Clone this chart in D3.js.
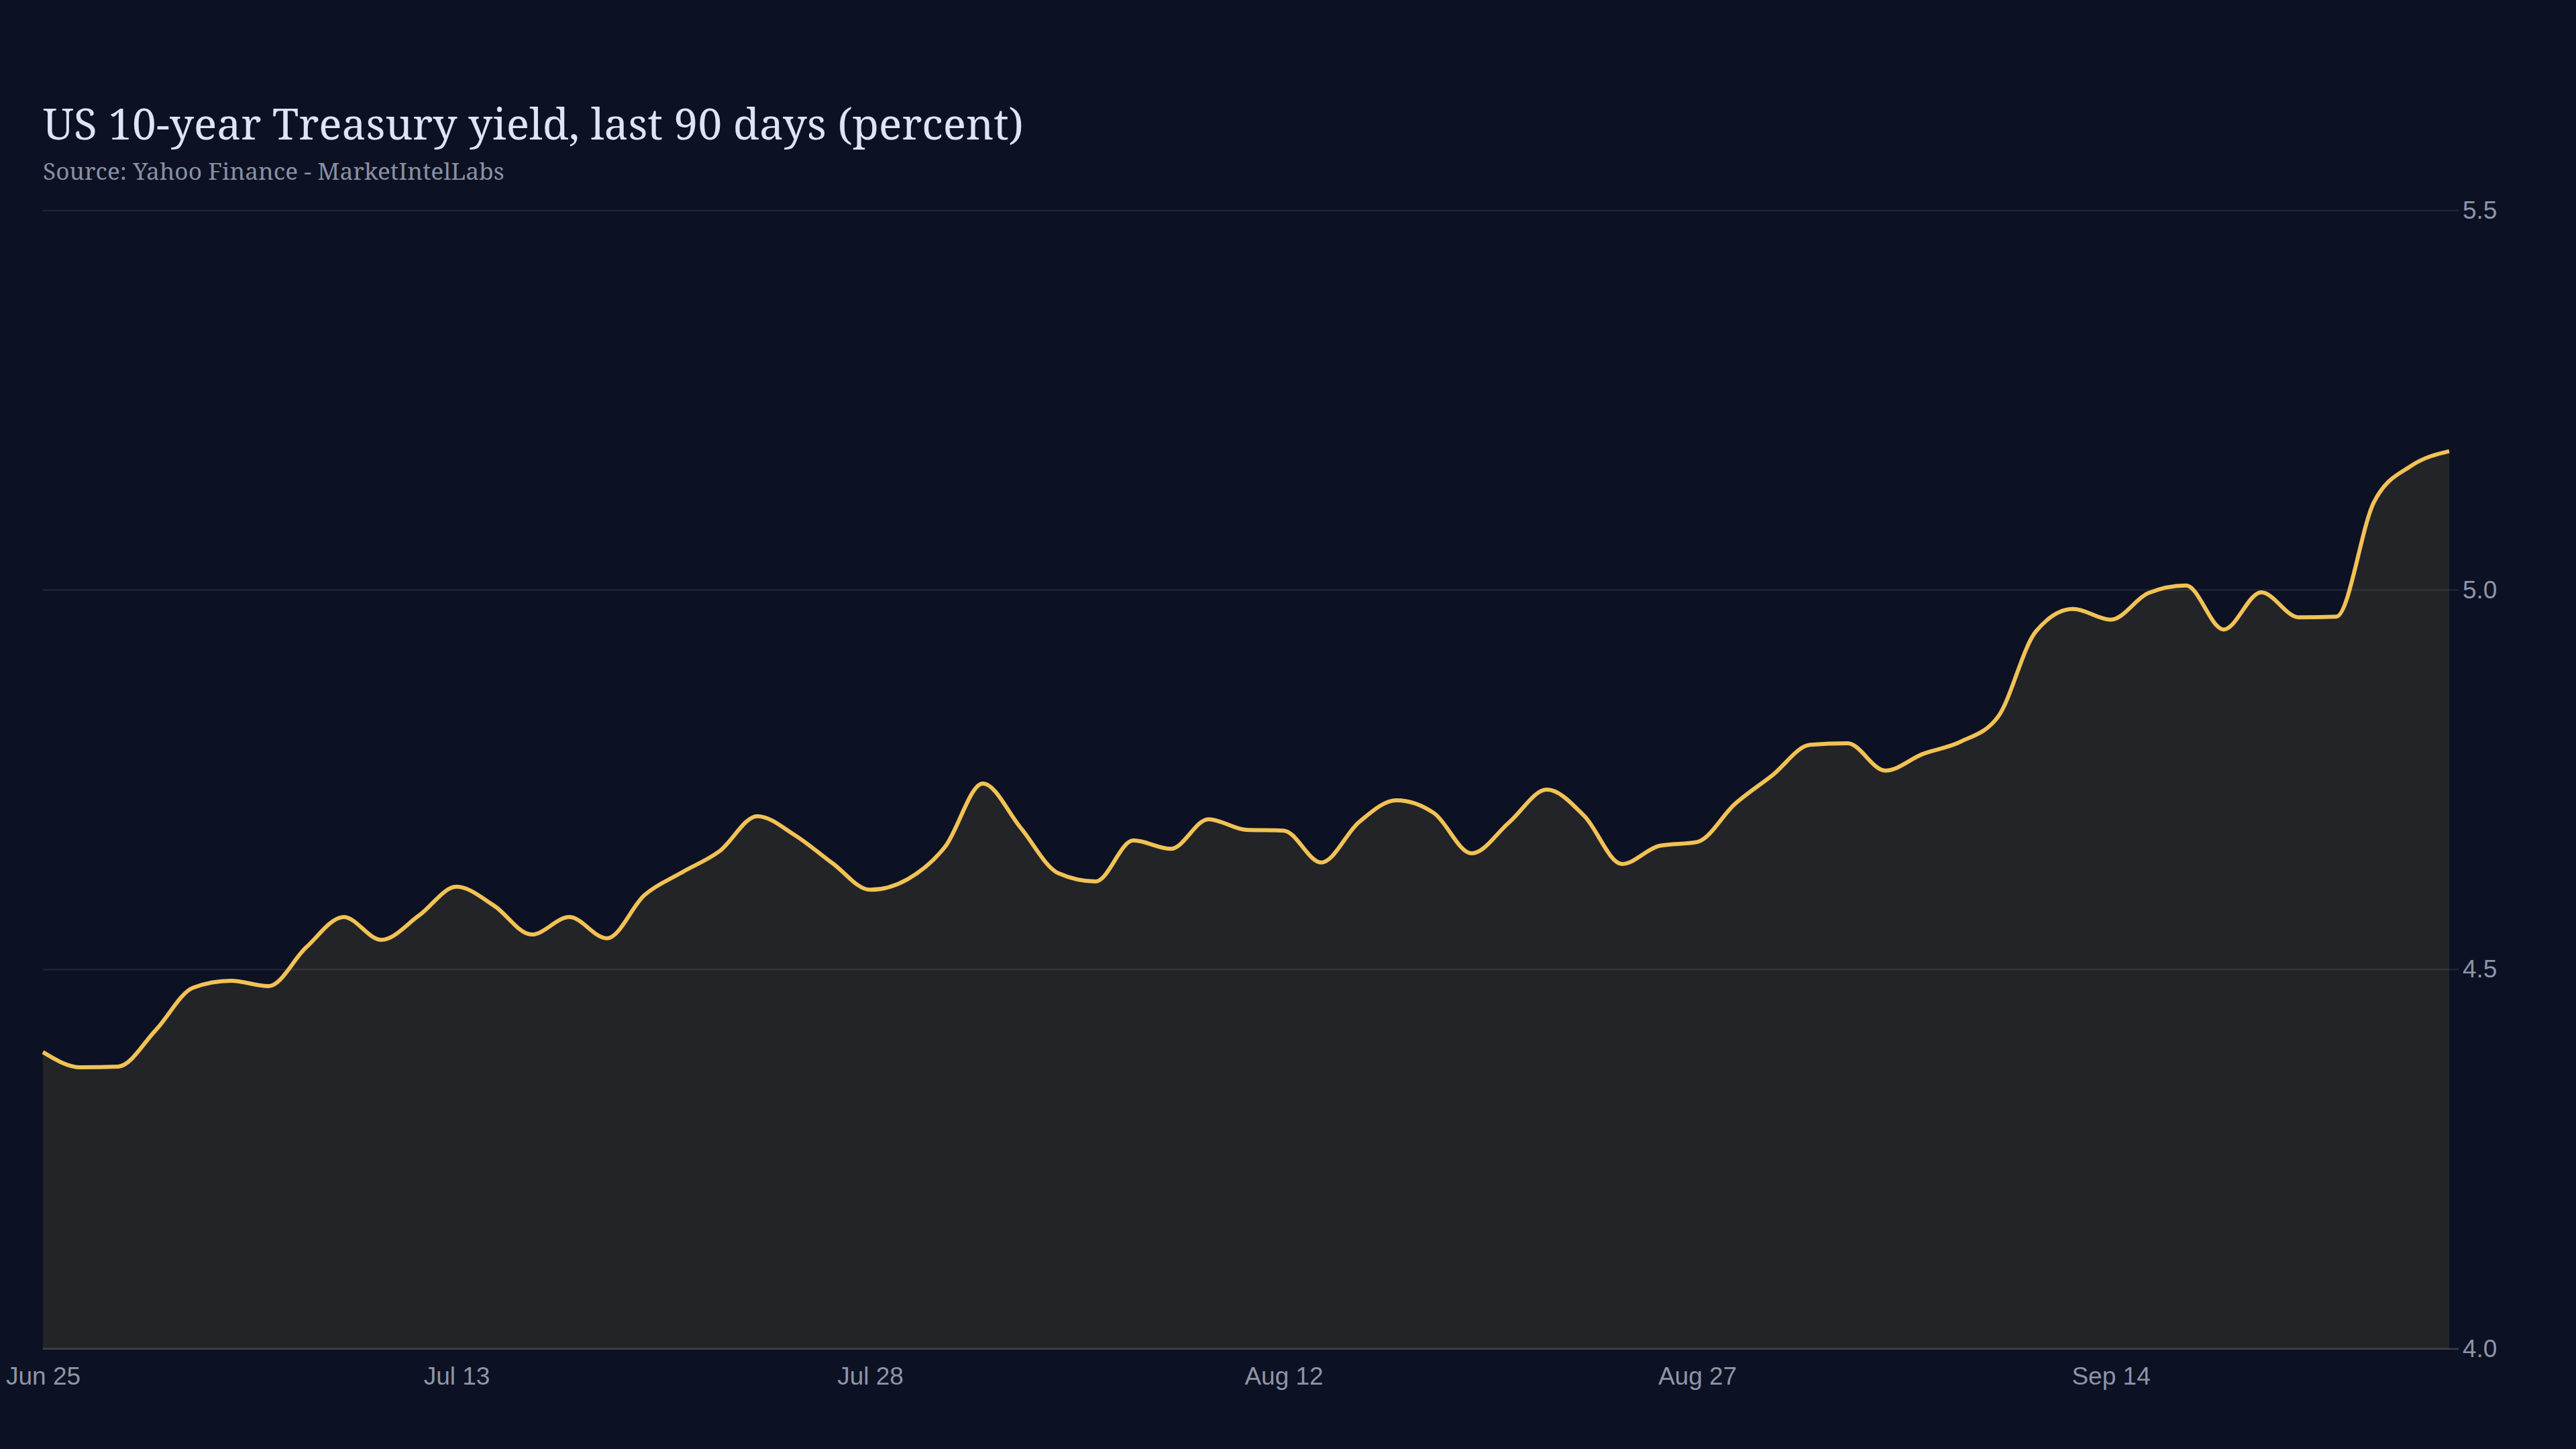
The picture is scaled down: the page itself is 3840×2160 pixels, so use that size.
<!DOCTYPE html>
<html>
<head>
<meta charset="utf-8">
<script src="https://cdn.jsdelivr.net/npm/d3@7"></script>
<style>
  html, body { margin: 0; padding: 0; background: #0c1223; }
  svg { display: block; }
</style>
</head>
<body>
<svg id="chart" width="3840" height="2160"></svg>
<script>
// 10y yield, one value per trading day (65 points)
const yields = [
  4.391, 4.371, 4.372, 4.420, 4.476, 4.485, 4.478, 4.529, 4.569, 4.539, 4.571,
  4.609, 4.584, 4.546, 4.569, 4.541, 4.598, 4.628, 4.656, 4.702, 4.677, 4.640,
  4.605, 4.619, 4.662, 4.745, 4.687, 4.627, 4.616, 4.670, 4.659, 4.698, 4.684,
  4.683, 4.641, 4.694, 4.723, 4.706, 4.653, 4.694, 4.737, 4.702, 4.639, 4.663,
  4.668, 4.718, 4.756, 4.796, 4.798, 4.762, 4.784, 4.800, 4.833, 4.945, 4.975,
  4.961, 4.996, 5.006, 4.948, 4.997, 4.964, 4.965, 5.116, 5.164, 5.183
];
const tickIdx = [0, 11, 22, 33, 44, 55];
const tickLabels = ['Jun 25', 'Jul 13', 'Jul 28', 'Aug 12', 'Aug 27', 'Sep 14'];
const yTicks = [4.0, 4.5, 5.0, 5.5];

const svg = d3.select('#chart');
const plotLeft = 64, plotRight = 3651, plotTop = 314, plotBottom = 2010.7;
const gridRight = 3665;
const lineColor = '#f2c255';

const x = d3.scaleLinear().domain([0, yields.length - 1]).range([plotLeft, plotRight]);
const y = d3.scaleLinear().domain([4, 5.5]).range([plotBottom, plotTop]);

svg.append('rect').attr('width', 3840).attr('height', 2160).attr('fill', '#0c1223');

// title
svg.append('text')
  .attr('x', 64).attr('y', 208)
  .attr('fill', '#dde4f5')
  .style('font-family', '"Noto Serif", "DejaVu Serif", serif')
  .style('font-size', '64px')
  .text('US 10-year Treasury yield, last 90 days (percent)');

svg.append('text')
  .attr('x', 64).attr('y', 268)
  .attr('fill', '#8a90a4')
  .style('font-family', '"Noto Serif", "DejaVu Serif", serif')
  .style('font-size', '35.3px')
  .text('Source: Yahoo Finance - MarketIntelLabs');

// grid
svg.append('g')
  .selectAll('line')
  .data(yTicks)
  .enter()
  .append('line')
  .attr('x1', plotLeft).attr('x2', gridRight)
  .attr('y1', d => y(d)).attr('y2', d => y(d))
  .attr('stroke', d => d === 4 ? '#3a3d44' : '#1e2536')
  .attr('stroke-width', 2.5);

// area + line
const area = d3.area()
  .x((d, i) => x(i))
  .y0(y(4))
  .y1(d => y(d))
  .curve(d3.curveMonotoneX);

const line = d3.line()
  .x((d, i) => x(i))
  .y(d => y(d))
  .curve(d3.curveMonotoneX);

svg.append('path')
  .datum(yields)
  .attr('d', area)
  .attr('fill', lineColor)
  .attr('fill-opacity', 0.1);

svg.append('path')
  .datum(yields)
  .attr('d', line)
  .attr('fill', 'none')
  .attr('stroke', lineColor)
  .attr('stroke-width', 6)
  .attr('stroke-linejoin', 'round');

// axes
const xAxis = svg.append('g')
  .attr('transform', `translate(0,${plotBottom})`)
  .call(d3.axisBottom(x)
    .tickValues(tickIdx)
    .tickFormat((d, i) => tickLabels[i])
    .tickSize(0)
    .tickPadding(27));

const yAxis = svg.append('g')
  .attr('transform', `translate(${gridRight},0)`)
  .call(d3.axisRight(y)
    .tickValues(yTicks)
    .tickFormat(d3.format('.1f'))
    .tickSize(0)
    .tickPadding(6));

[xAxis, yAxis].forEach(g => {
  g.select('.domain').remove();
  g.selectAll('text')
    .attr('fill', '#8e95a8')
    .style('font-family', '"Liberation Sans", Arial, sans-serif')
    .style('font-size', '37px');
});
</script>
</body>
</html>
